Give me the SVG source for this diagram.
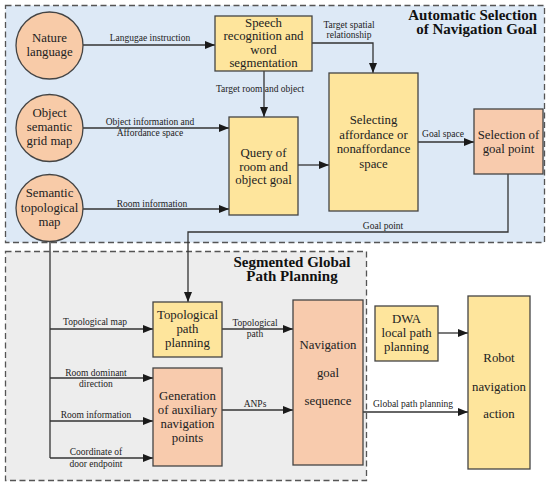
<svg xmlns="http://www.w3.org/2000/svg" width="550" height="486" viewBox="0 0 550 486">
<defs>
<marker id="arr" viewBox="0 0 10 8" refX="10" refY="4" markerWidth="10" markerHeight="8" markerUnits="userSpaceOnUse" orient="auto">
<path d="M0,0 L10,4 L0,8 Z" fill="#1a1a1a"/>
</marker>
<style>
.region{stroke:#555;stroke-width:1.3;stroke-dasharray:6,3.5}
.c{fill:#f8cba8;stroke:#444;stroke-width:1.3}
.y{fill:#fee59c;stroke:#444;stroke-width:1.3}
.o{fill:#f8cbad;stroke:#444;stroke-width:1.3}
.n{font-family:'Liberation Serif','DejaVu Serif',serif;font-size:12.8px;fill:#222;text-anchor:middle}
.l{font-family:'Liberation Serif','DejaVu Serif',serif;font-size:9.5px;fill:#222;text-anchor:middle}
.t{font-family:'Liberation Serif','DejaVu Serif',serif;font-size:15px;font-weight:bold;fill:#111}
.e{fill:none;stroke:#333;stroke-width:1.3}
</style>
</defs>
<rect x="0" y="0" width="550" height="486" fill="#fff"/>
<rect class="region" x="5.5" y="5.5" width="539" height="237" fill="#dde9f6"/>
<rect class="region" x="5.5" y="251.5" width="361" height="229" fill="#ededed"/>
<text class="t" x="537" y="19.5" text-anchor="end">Automatic Selection</text>
<text class="t" x="537" y="34" text-anchor="end">of Navigation Goal</text>
<text class="t" x="292" y="266.5" text-anchor="middle">Segmented Global</text>
<text class="t" x="292" y="281" text-anchor="middle">Path Planning</text>

<g id="connectors">
<line class="e" x1="83" y1="45" x2="215" y2="45" marker-end="url(#arr)"/>
<text class="l" x="150" y="41">Langugae instruction</text>
<line class="e" x1="264" y1="71" x2="264" y2="117" marker-end="url(#arr)"/>
<text class="l" x="260" y="92">Target room and object</text>
<line class="e" x1="83" y1="128" x2="229" y2="128" marker-end="url(#arr)"/>
<text class="l" x="150" y="125">Object information and</text>
<text class="l" x="150" y="136">Affordance space</text>
<line class="e" x1="83" y1="209" x2="229" y2="209" marker-end="url(#arr)"/>
<text class="l" x="152" y="207">Room  information</text>
<line class="e" x1="298" y1="165" x2="329" y2="165" marker-end="url(#arr)"/>
<polyline class="e" points="312,43 373,43 373,73" marker-end="url(#arr)"/>
<text class="l" x="349" y="28">Target spatial</text>
<text class="l" x="349" y="38">relationship</text>
<line class="e" x1="418" y1="142" x2="474" y2="142" marker-end="url(#arr)"/>
<text class="l" x="443" y="137">Goal space</text>
<polyline class="e" points="508,174 508,232 188,232 188,302" marker-end="url(#arr)"/>
<text class="l" x="383" y="229">Goal point</text>
<polyline class="e" points="50,242 50,458"/>
<line class="e" x1="50" y1="329" x2="153" y2="329" marker-end="url(#arr)"/>
<text class="l" x="95" y="325">Topological map</text>
<line class="e" x1="50" y1="378" x2="153" y2="378" marker-end="url(#arr)"/>
<text class="l" x="96" y="376">Room dominant</text>
<text class="l" x="96" y="387">direction</text>
<line class="e" x1="50" y1="421" x2="153" y2="421" marker-end="url(#arr)"/>
<text class="l" x="96" y="418">Room information</text>
<line class="e" x1="50" y1="458" x2="153" y2="458" marker-end="url(#arr)"/>
<text class="l" x="96" y="455">Coordinate of</text>
<text class="l" x="96" y="467">door endpoint</text>
<line class="e" x1="222" y1="329" x2="293" y2="329" marker-end="url(#arr)"/>
<text class="l" x="255" y="326">Topological</text>
<text class="l" x="255" y="337">path</text>
<line class="e" x1="222" y1="410" x2="293" y2="410" marker-end="url(#arr)"/>
<text class="l" x="255" y="407">ANPs</text>
<line class="e" x1="363" y1="412" x2="468" y2="412" marker-end="url(#arr)"/>
<text class="l" x="413" y="407">Global path planning</text>
<line class="e" x1="438" y1="333" x2="468" y2="333" marker-end="url(#arr)"/>
</g>

<g id="nature-language">
<circle class="c" cx="49.5" cy="45.5" r="33.5"/>
<text class="n" x="49.5" y="42">Nature</text>
<text class="n" x="49.5" y="56">language</text>
</g>
<g id="object-semantic-grid-map">
<circle class="c" cx="49.5" cy="128" r="33.5"/>
<text class="n" x="49.5" y="117">Object</text>
<text class="n" x="49.5" y="131">semantic</text>
<text class="n" x="49.5" y="145">grid map</text>
</g>
<g id="semantic-topological-map">
<circle class="c" cx="49.5" cy="208" r="33.5"/>
<text class="n" x="49.5" y="197">Semantic</text>
<text class="n" x="49.5" y="212">topological</text>
<text class="n" x="49.5" y="226">map</text>
</g>
<g id="speech-recognition">
<rect class="y" x="215" y="16" width="97" height="55"/>
<text class="n" x="263.5" y="26.5">Speech</text>
<text class="n" x="263.5" y="40">recognition and</text>
<text class="n" x="263.5" y="53.5">word</text>
<text class="n" x="263.5" y="67">segmentation</text>
</g>
<g id="query-goal">
<rect class="y" x="229" y="117" width="69" height="98"/>
<text class="n" x="263.5" y="157">Query of</text>
<text class="n" x="263.5" y="170.5">room and</text>
<text class="n" x="263.5" y="184">object goal</text>
</g>
<g id="selecting-space">
<rect class="y" x="329" y="73" width="89" height="138"/>
<text class="n" x="373.5" y="124">Selecting</text>
<text class="n" x="373.5" y="138.5">affordance or</text>
<text class="n" x="373.5" y="153">nonaffordance</text>
<text class="n" x="373.5" y="167.5">space</text>
</g>
<g id="goal-point">
<rect class="o" x="474" y="109" width="69" height="65"/>
<text class="n" x="508.5" y="139">Selection of</text>
<text class="n" x="508.5" y="153">goal point</text>
</g>
<g id="topological-path-planning">
<rect class="y" x="153" y="302" width="69" height="55"/>
<text class="n" x="187.5" y="319">Topological</text>
<text class="n" x="187.5" y="333">path</text>
<text class="n" x="187.5" y="347">planning</text>
</g>
<g id="generation-anp">
<rect class="o" x="153" y="368" width="69" height="98"/>
<text class="n" x="187.5" y="400">Generation</text>
<text class="n" x="187.5" y="414">of auxiliary</text>
<text class="n" x="187.5" y="428">navigation</text>
<text class="n" x="187.5" y="442">points</text>
</g>
<g id="navigation-goal-sequence">
<rect class="o" x="293" y="300" width="70" height="165"/>
<text class="n" x="328" y="349">Navigation</text>
<text class="n" x="328" y="377">goal</text>
<text class="n" x="328" y="405">sequence</text>
</g>
<g id="dwa">
<rect class="y" x="375" y="306" width="63" height="55"/>
<text class="n" x="406.5" y="323">DWA</text>
<text class="n" x="406.5" y="337">local path</text>
<text class="n" x="406.5" y="351">planning</text>
</g>
<g id="robot-action">
<rect class="y" x="468" y="296" width="62" height="173"/>
<text class="n" x="499" y="362">Robot</text>
<text class="n" x="499" y="391">navigation</text>
<text class="n" x="499" y="418">action</text>
</g>
</svg>
